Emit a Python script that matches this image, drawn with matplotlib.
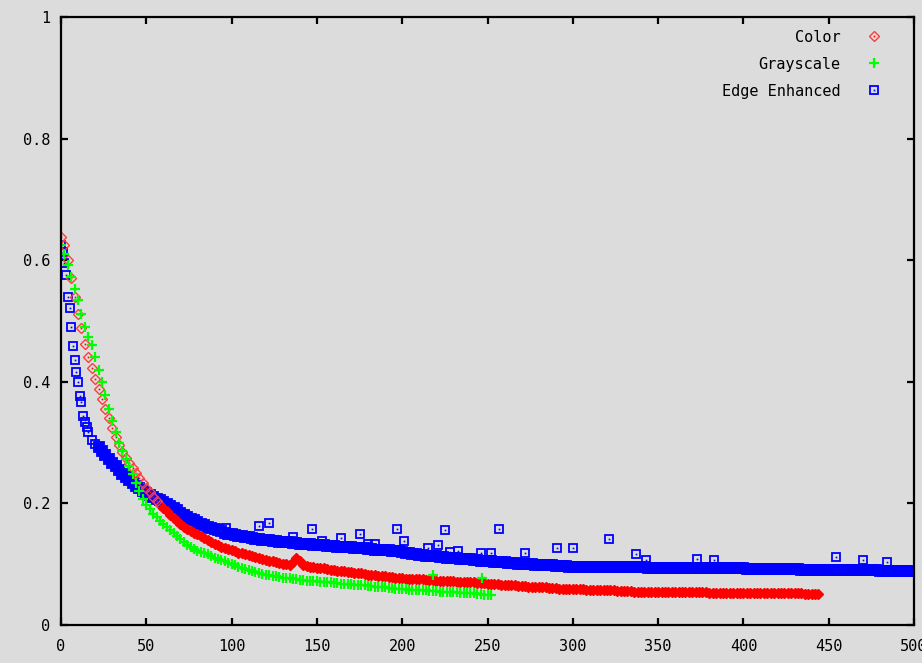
"""Convergence scatter: Color / Grayscale / Edge Enhanced (gnuplot look)"""
import matplotlib.pyplot as plt
import numpy as np
from matplotlib.lines import Line2D

# ===== data
series_labels = ["Color", "Grayscale", "Edge Enhanced"]

# Color: one value every 2 iterations, x = 0, 2, ..., 444
color_y = [
    .638, .625, .600, .570, .540, .512, .488, .462, .440, .422,
    .405, .388, .371, .355, .340, .324, .309, .296, .284, .275,
    .266, .258, .250, .242, .233, .225, .218, .211, .204, .198,
    .192, .187, .181, .176, .171, .166, .162, .158, .155, .152,
    .149, .146, .143, .140, .137, .134, .131, .129, .127, .125,
    .123, .121, .119, .118, .116, .115, .113, .112, .110, .109,
    .107, .106, .105, .103, .102, .101, .100, .099, .104, .110,
    .106, .098, .097, .096, .095, .094, .093, .093, .092, .091,
    .090, .089, .089, .088, .087, .087, .086, .085, .085, .084,
    .083, .083, .082, .081, .081, .080, .079, .079, .078, .077,
    .077, .076, .076, .076, .075, .075, .075, .074, .074, .074,
    .073, .073, .073, .072, .072, .072, .071, .071, .071, .070,
    .070, .070, .069, .069, .069, .068, .068, .067, .067, .066,
    .066, .066, .065, .065, .064, .064, .064, .063, .063, .063,
    .062, .062, .062, .061, .061, .061, .060, .060, .060, .060,
    .059, .059, .059, .059, .058, .058, .058, .058, .057, .057,
    .057, .057, .057, .056, .056, .056, .056, .056, .055, .055,
    .055, .055, .055, .055, .054, .054, .054, .054, .054, .054,
    .054, .054, .054, .054, .054, .054, .054, .054, .054, .054,
    .053, .053, .053, .053, .053, .053, .053, .053, .053, .053,
    .053, .053, .053, .053, .053, .052, .052, .052, .052, .052,
    .052, .052, .052, .052, .052, .052, .052, .052, .051, .051,
    .051, .051, .051,
]

# Grayscale: x = 0, 2, ..., 252
gray_y = [
    .625, .610, .592, .572, .552, .534, .512, .490, .474, .460,
    .440, .420, .400, .378, .356, .336, .317, .300, .286, .273,
    .262, .248, .234, .220, .208, .198, .190, .183, .177, .171,
    .166, .161, .156, .151, .146, .141, .136, .131, .128, .125,
    .122, .120, .118, .116, .113, .111, .109, .107, .105, .102,
    .100, .098, .096, .094, .092, .090, .089, .087, .086, .084,
    .083, .082, .081, .080, .079, .078, .077, .077, .076, .075,
    .074, .074, .073, .073, .072, .072, .071, .071, .070, .070,
    .069, .069, .068, .068, .067, .067, .066, .066, .065, .065,
    .064, .064, .063, .063, .062, .062, .061, .061, .060, .060,
    .059, .059, .058, .058, .058, .057, .057, .057, .056, .056,
    .056, .055, .055, .055, .054, .054, .054, .053, .053, .053,
    .052, .052, .051, .051, .050, .050, .049,
]
gray_out_x = [218, 247]
gray_out_y = [.082, .077]

# Edge Enhanced: first iterations one by one (x = 0..16), then x = 18, 20, ..., 500
edge_head_y = [
    .625, .613, .596, .575, .540, .521, .490, .459, .436, .416,
    .400, .377, .367, .344, .334, .325, .317,
]
edge_y = [
    .305, .298, .292, .286, .280, .273, .267, .261, .255, .249,
    .243, .238, .234, .229, .225, .221, .217, .214, .211, .208,
    .205, .202, .199, .196, .192, .189, .185, .181, .178, .175,
    .172, .169, .166, .164, .162, .160, .158, .156, .154, .152,
    .150, .149, .148, .147, .146, .145, .144, .143, .142, .141,
    .140, .139, .139, .138, .138, .137, .137, .136, .136, .135,
    .135, .134, .134, .133, .133, .132, .132, .131, .131, .130,
    .130, .130, .129, .129, .128, .128, .128, .127, .127, .126,
    .126, .125, .125, .124, .124, .124, .123, .123, .122, .122,
    .121, .120, .119, .118, .117, .116, .115, .115, .114, .114,
    .113, .113, .112, .112, .111, .111, .110, .110, .109, .109,
    .108, .108, .107, .107, .106, .106, .105, .105, .104, .104,
    .103, .103, .102, .102, .102, .101, .101, .100, .100, .100,
    .099, .099, .099, .098, .098, .098, .097, .097, .097, .097,
    .096, .096, .096, .096, .096, .096, .096, .096, .096, .096,
    .095, .095, .095, .095, .095, .095, .095, .095, .095, .095,
    .095, .095, .095, .094, .094, .094, .094, .094, .094, .094,
    .094, .094, .094, .094, .094, .094, .094, .094, .093, .093,
    .093, .093, .093, .093, .093, .093, .093, .093, .093, .093,
    .093, .093, .092, .092, .092, .092, .092, .092, .092, .092,
    .092, .092, .092, .092, .092, .092, .092, .092, .091, .091,
    .091, .091, .091, .091, .091, .091, .091, .091, .091, .091,
    .090, .090, .090, .090, .090, .090, .090, .090, .090, .090,
    .090, .089, .089, .089, .089, .089, .089, .089, .088, .088,
    .088, .088,
]
# stray Edge Enhanced points above the band
edge_out_x = [97, 116, 122, 136, 147, 153, 164, 175, 180, 184, 197, 201, 215, 221,
              225, 228, 233, 246, 252, 257, 272, 291, 300, 321, 337, 343, 373, 383,
              454, 470, 484]
edge_out_y = [.160, .163, .168, .145, .158, .138, .143, .150, .133, .133, .158, .138,
              .127, .132, .156, .120, .122, .118, .118, .158, .118, .127, .127, .141,
              .117, .107, .109, .107, .112, .107, .104]

x_ticks = [0, 50, 100, 150, 200, 250, 300, 350, 400, 450, 500]
y_ticks = [0, 0.2, 0.4, 0.6, 0.8, 1]
y_tick_labels = ["0", "0.2", "0.4", "0.6", "0.8", "1"]

BG = "#dcdcdc"
RED = "#ff0000"
PINK = "#ff3c3c"
GREEN = "#00ff00"
BLUE = "#0000ff"


def main():
    """draw and save"""
    plt.rcParams["font.family"] = ["DejaVu Sans Mono"]

    fig = plt.figure(figsize=(9.22, 6.63), dpi=100, facecolor=BG)
    ax = fig.add_axes([61 / 922, 38 / 663, 853 / 922, 608 / 663])
    ax.set_facecolor(BG)

    # ===== x positions
    color_x = np.arange(len(color_y)) * 2
    gray_x = np.arange(len(gray_y)) * 2
    edge_x = np.concatenate([np.arange(len(edge_head_y)),
                             18 + np.arange(len(edge_y)) * 2])
    edge_all_y = np.array(edge_head_y + edge_y)
    color_y_arr = np.array(color_y)

    # marker styles (gnuplot-like: hollow with a centre dot)
    sq = dict(linestyle="none", marker="s", markersize=6.2, mfc="none",
              mec=BLUE, mew=1.3)
    sq_fill = dict(linestyle="none", marker="s", markersize=7.4, mfc=BLUE,
                   mec=BLUE, mew=1.3)
    dot_b = dict(linestyle="none", marker="s", markersize=1.2, color=BLUE, mew=0)
    dia = dict(linestyle="none", marker="D", markersize=4.6, mfc="none",
               mec=PINK, mew=1.0)
    dia_fill = dict(linestyle="none", marker="D", markersize=5.6, mfc=RED,
                    mec=RED, mew=1.0)
    dot_r = dict(linestyle="none", marker="s", markersize=1.2, color=RED, mew=0)
    plus = dict(linestyle="none", marker="+", markersize=7.5, color=GREEN, mew=1.6)

    # ===== Edge Enhanced: sparse start hollow, dense band merges into solid
    sparse_b = edge_x < 22
    ax.plot(edge_x[sparse_b], edge_all_y[sparse_b], **sq)
    ax.plot(edge_x[sparse_b], edge_all_y[sparse_b], **dot_b)
    ax.plot(edge_x[~sparse_b], edge_all_y[~sparse_b], **sq_fill)
    ax.plot(edge_out_x, edge_out_y, **sq)
    ax.plot(edge_out_x, edge_out_y, **dot_b)

    # ===== Color
    sparse_r = color_x < 60
    ax.plot(color_x[sparse_r], color_y_arr[sparse_r], **dia)
    ax.plot(color_x[sparse_r], color_y_arr[sparse_r], **dot_r)
    ax.plot(color_x[~sparse_r], color_y_arr[~sparse_r], **dia_fill)

    # ===== Grayscale
    ax.plot(gray_x, gray_y, **plus)
    ax.plot(gray_out_x, gray_out_y, **plus)

    # ===== axes look
    ax.set_xlim(0, 500)
    ax.set_ylim(0, 1)
    ax.set_xticks(x_ticks)
    ax.set_yticks(y_ticks)
    ax.set_yticklabels(y_tick_labels)
    ax.tick_params(direction="in", length=5, width=1.6, top=True, right=True,
                   labelsize=11, colors="black")
    ax.tick_params(axis="y", pad=8)
    ax.tick_params(axis="x", pad=10)
    for sp in ax.spines.values():
        sp.set_linewidth(1.6)
        sp.set_color("black")

    # ===== legend (text right-aligned, marker on the right)
    handles = [
        (Line2D([], [], **dia), Line2D([], [], **dot_r)),
        Line2D([], [], **plus),
        (Line2D([], [], **sq), Line2D([], [], **dot_b)),
    ]
    ax.legend(handles, series_labels, loc="upper right",
              bbox_to_anchor=(0.982, 1.004), frameon=False,
              markerfirst=False, fontsize=11, handlelength=1.2,
              handletextpad=1.6, labelspacing=0.78, borderaxespad=0.6)

    fig.savefig("out.png", dpi=100, facecolor=BG)


if __name__ == "__main__":
    main()
